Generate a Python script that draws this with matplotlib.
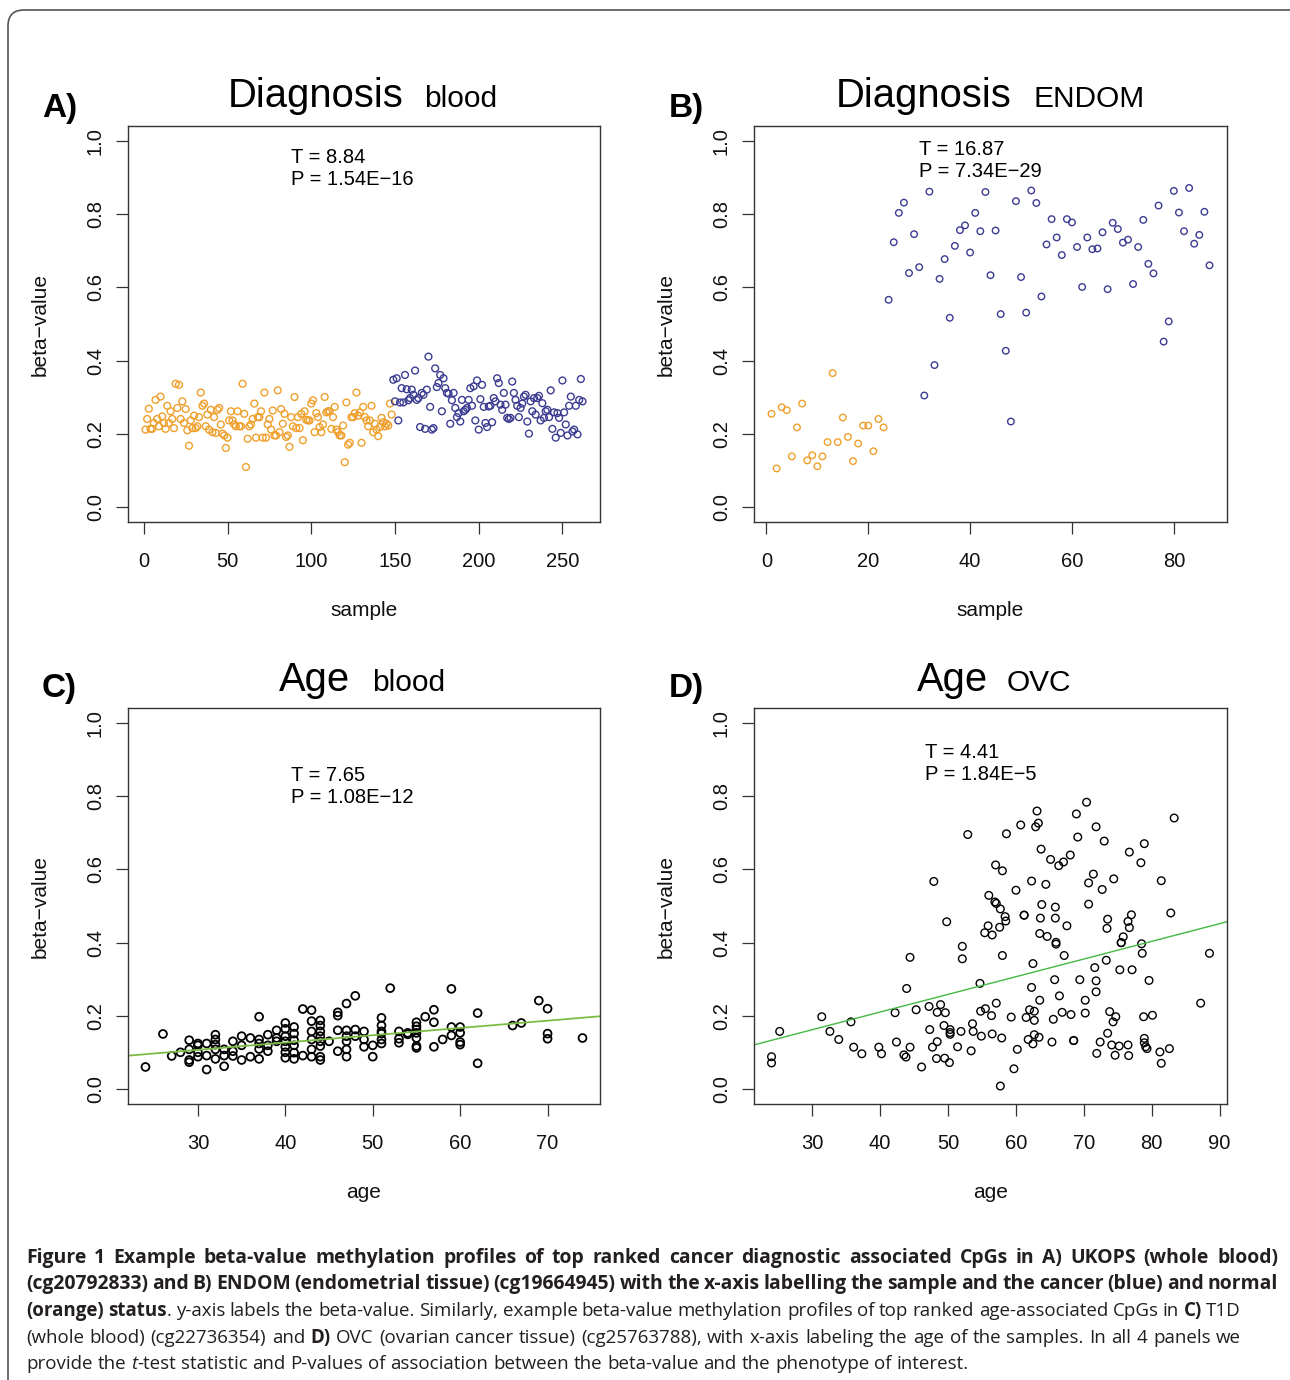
import numpy as np
import matplotlib.pyplot as plt
from matplotlib.patches import FancyBboxPatch
from matplotlib.transforms import IdentityTransform

W, H = 1290, 1380

# panel A - UKOPS whole blood, normal (orange) samples first, then cancer (blue)
a_normal = [0.212, 0.241, 0.269, 0.214, 0.214, 0.230, 0.293, 0.241, 0.221, 0.302,
            0.248, 0.230, 0.214, 0.277, 0.230, 0.262, 0.241, 0.216, 0.337, 0.271,
            0.334, 0.241, 0.289, 0.230, 0.268, 0.210, 0.168, 0.237, 0.216, 0.250,
            0.216, 0.221, 0.246, 0.313, 0.277, 0.283, 0.221, 0.253, 0.212, 0.266,
            0.205, 0.246, 0.203, 0.266, 0.271, 0.226, 0.201, 0.196, 0.162, 0.190,
            0.237, 0.262, 0.237, 0.226, 0.221, 0.262, 0.221, 0.221, 0.337, 0.255,
            0.110, 0.187, 0.221, 0.226, 0.241, 0.283, 0.190, 0.246, 0.246, 0.262,
            0.190, 0.313, 0.190, 0.226, 0.241, 0.212, 0.264, 0.196, 0.196, 0.319,
            0.205, 0.268, 0.228, 0.255, 0.192, 0.196, 0.165, 0.246, 0.221, 0.301,
            0.216, 0.246, 0.216, 0.255, 0.183, 0.262, 0.239, 0.237, 0.237, 0.283,
            0.292, 0.205, 0.257, 0.246, 0.219, 0.205, 0.226, 0.301, 0.259, 0.262,
            0.262, 0.214, 0.246, 0.274, 0.212, 0.205, 0.196, 0.196, 0.223, 0.123,
            0.286, 0.171, 0.176, 0.246, 0.246, 0.257, 0.313, 0.250, 0.259, 0.176,
            0.274, 0.246, 0.237, 0.221, 0.237, 0.277, 0.205, 0.228, 0.212, 0.194,
            0.219, 0.244, 0.232, 0.221, 0.228, 0.223, 0.283, 0.253]
a_cancer = [0.348, 0.289, 0.352, 0.237, 0.286, 0.325, 0.286, 0.361, 0.322, 0.292,
            0.298, 0.321, 0.307, 0.373, 0.293, 0.298, 0.219, 0.312, 0.307, 0.214,
            0.321, 0.411, 0.274, 0.212, 0.216, 0.379, 0.328, 0.339, 0.361, 0.262,
            0.352, 0.325, 0.312, 0.310, 0.228, 0.292, 0.312, 0.271, 0.246, 0.257,
            0.234, 0.293, 0.262, 0.266, 0.271, 0.293, 0.325, 0.277, 0.330, 0.237,
            0.346, 0.212, 0.295, 0.334, 0.274, 0.230, 0.219, 0.275, 0.277, 0.232,
            0.298, 0.289, 0.352, 0.339, 0.280, 0.266, 0.312, 0.280, 0.244, 0.241,
            0.244, 0.343, 0.312, 0.293, 0.277, 0.246, 0.271, 0.283, 0.302,
            0.307, 0.234, 0.201, 0.289, 0.262, 0.298, 0.253, 0.298, 0.304, 0.237,
            0.284, 0.244, 0.262, 0.266, 0.246, 0.319, 0.214, 0.259, 0.190, 0.257,
            0.244, 0.203, 0.346, 0.259, 0.226, 0.196, 0.277, 0.302, 0.207, 0.212,
            0.277, 0.199, 0.293, 0.350, 0.289]

# panel B - ENDOM endometrial tissue
b_normal = [0.255, 0.106, 0.273, 0.265, 0.139, 0.218, 0.283, 0.128, 0.142, 0.112,
            0.139, 0.178, 0.366, 0.178, 0.245, 0.192, 0.126, 0.174, 0.223, 0.223,
            0.153, 0.241, 0.218]
b_cancer = [0.566, 0.723, 0.803, 0.831, 0.639, 0.745, 0.655, 0.305, 0.861, 0.388,
            0.623, 0.677, 0.517, 0.713, 0.756, 0.769, 0.695, 0.803, 0.753, 0.860,
            0.633, 0.755, 0.527, 0.427, 0.234, 0.835, 0.628, 0.531, 0.864, 0.830,
            0.575, 0.717, 0.786, 0.736, 0.688, 0.786, 0.777, 0.710, 0.601, 0.736,
            0.704, 0.706, 0.750, 0.595, 0.776, 0.759, 0.722, 0.730, 0.609, 0.710,
            0.784, 0.664, 0.638, 0.823, 0.452, 0.507, 0.863, 0.804, 0.753, 0.871,
            0.719, 0.743, 0.806, 0.660]

# panel C - T1D whole blood, beta-values grouped by age
c_ages = [24, 26, 27, 28, 29, 30, 31, 32, 33, 34, 35, 36, 37, 38, 39, 40, 41, 42, 43, 44,
          45, 46, 47, 48, 49, 50, 51, 52, 53, 54, 55, 56, 57, 58, 59, 60, 62, 66, 67, 69,
          70, 74]
c_betas = [[0.061], [0.151], [0.091], [0.101],
           [0.134, 0.109, 0.080, 0.074],
           [0.125, 0.101, 0.089, 0.120],
           [0.125, 0.092, 0.054],
           [0.149, 0.136, 0.122, 0.109, 0.083],
           [0.109, 0.092, 0.063],
           [0.131, 0.104, 0.091],
           [0.145, 0.120, 0.080],
           [0.140, 0.089],
           [0.198, 0.136, 0.125, 0.110, 0.083],
           [0.149, 0.120, 0.104],
           [0.161, 0.140, 0.131],
           [0.181, 0.165, 0.145, 0.131, 0.116, 0.101, 0.086],
           [0.170, 0.152, 0.134, 0.120, 0.100, 0.083],
           [0.219, 0.092],
           [0.216, 0.186, 0.158, 0.136, 0.109, 0.089],
           [0.188, 0.174, 0.158, 0.145, 0.131, 0.118, 0.089, 0.080],
           [0.131],
           [0.210, 0.201, 0.161, 0.104],
           [0.234, 0.161, 0.145, 0.131, 0.109, 0.089],
           [0.255, 0.163, 0.145],
           [0.158, 0.136, 0.116],
           [0.120, 0.089],
           [0.195, 0.174, 0.158, 0.152, 0.136, 0.125],
           [0.276],
           [0.158, 0.138, 0.127],
           [0.154, 0.150],
           [0.183, 0.172, 0.163, 0.154, 0.140, 0.118, 0.113],
           [0.198],
           [0.217, 0.183, 0.116],
           [0.136],
           [0.274, 0.170, 0.147],
           [0.170, 0.154, 0.129, 0.122],
           [0.208, 0.071],
           [0.174], [0.181], [0.242],
           [0.220, 0.152, 0.138],
           [0.140]]
c_fit = (0.048, 0.00199)   # intercept, slope

# panel D - OVC ovarian cancer tissue
d_age = [24.0, 24.0, 25.2, 31.4, 32.6, 33.9, 35.7, 36.1, 37.3, 39.8, 40.2, 42.2, 42.4, 43.5,
         43.8, 43.9, 44.4, 44.4, 45.3, 46.1, 47.2, 47.3, 47.7, 47.9, 48.3, 48.4, 48.4, 48.9,
         49.4, 49.5, 49.6, 49.8, 50.2, 50.3, 50.3, 50.3, 51.4, 51.9, 52.1, 52.1, 52.9, 53.4,
         53.6, 53.7, 54.7, 54.8, 54.9, 55.4, 55.5, 55.9, 56.0,
         56.5, 56.5, 56.4, 56.9, 57.1, 57.0, 57.1, 57.6, 57.7, 57.7, 57.9, 58.0, 58.0, 58.4,
         58.5, 58.6, 59.3, 59.7, 60.0, 60.2, 60.7, 61.2, 61.2, 61.5, 61.8, 62.0, 62.3, 62.3,
         62.5, 62.5, 62.7, 62.7, 62.7, 62.9, 63.1, 63.3, 63.4, 63.5, 63.5, 63.6, 63.7, 63.8,
         64.4, 64.6, 65.1, 65.3, 65.5, 65.7, 65.8, 65.8, 65.9, 65.9, 66.3, 66.4, 66.8, 67.0,
         67.1, 67.5, 68.0, 68.1, 68.5, 68.5, 68.9, 69.1, 69.4, 70.2, 70.2, 70.4, 70.7, 70.7,
         71.4, 71.6, 71.8, 71.8, 71.8, 71.9, 72.4, 72.7, 73.0, 73.3, 73.4, 73.5, 73.5, 73.8,
         74.1, 74.3, 74.4, 74.6, 74.7, 75.2, 75.3, 75.5, 75.5, 75.8, 76.5, 76.5, 76.6, 76.7,
         76.7, 77.0, 77.1, 78.4, 78.5, 78.6, 78.8, 78.9, 78.9, 79.1, 79.3, 78.9, 79.6, 80.1,
         81.2, 81.4, 81.4, 82.6, 82.8, 83.3, 87.2, 88.5]
d_beta = [0.089, 0.072, 0.158, 0.198, 0.158, 0.136, 0.184, 0.115, 0.097, 0.115, 0.097, 0.209,
          0.129, 0.094, 0.088, 0.275, 0.115, 0.360, 0.217, 0.061, 0.226, 0.163, 0.115, 0.567,
          0.084, 0.130, 0.210, 0.231, 0.174, 0.085, 0.209, 0.457, 0.073, 0.163, 0.155, 0.150,
          0.116, 0.158, 0.390, 0.356, 0.695, 0.105, 0.179, 0.158, 0.289, 0.213, 0.145, 0.427,
          0.220, 0.446, 0.529,
          0.421, 0.151, 0.201, 0.511, 0.507, 0.612, 0.235, 0.442, 0.492, 0.009, 0.140, 0.596,
          0.365, 0.471, 0.459, 0.697, 0.197, 0.056, 0.543, 0.109, 0.721, 0.475, 0.475, 0.196,
          0.136, 0.217, 0.568, 0.278, 0.343, 0.124, 0.213, 0.188, 0.149, 0.716, 0.759, 0.726,
          0.142, 0.425, 0.243, 0.467, 0.655, 0.504, 0.559, 0.417, 0.627, 0.129, 0.191, 0.299,
          0.497, 0.467, 0.401, 0.396, 0.610, 0.255, 0.210, 0.620, 0.365, 0.446, 0.639, 0.204,
          0.133, 0.133, 0.751, 0.688, 0.299, 0.208, 0.243, 0.783, 0.563, 0.505, 0.587, 0.332,
          0.716, 0.296, 0.266, 0.098, 0.129, 0.545, 0.677, 0.352, 0.439, 0.153, 0.464, 0.212,
          0.121, 0.184, 0.574, 0.093, 0.198, 0.118, 0.326, 0.400, 0.400, 0.416, 0.121, 0.458,
          0.092, 0.441, 0.647, 0.476, 0.326, 0.618, 0.397, 0.371, 0.198, 0.139, 0.127, 0.116,
          0.111, 0.670, 0.297, 0.202, 0.102, 0.071, 0.569, 0.111, 0.481, 0.740, 0.235, 0.371]
d_fit = (0.018, 0.00482)

orange = '#efa02c'
blue = '#3c3c92'
box_col = '#333333'

plt.rcParams['font.family'] = ['Liberation Sans', 'DejaVu Sans']
fig = plt.figure(figsize=(W / 100, H / 100), dpi=100)


def panel(left, top, width=472):
    return fig.add_axes([left / W, 1 - (top + 396) / H, width / W, 396 / H])


def r_xlim(ax, lo, hi):
    # R style 4% padding around the data range
    pad = 0.04 * (hi - lo)
    ax.set_xlim(lo - pad, hi + pad)


def style(ax, xticks, xlabel):
    ax.set_ylim(-0.04, 1.04)
    ax.set_yticks([0, 0.2, 0.4, 0.6, 0.8, 1.0])
    ax.set_yticklabels(['0.0', '0.2', '0.4', '0.6', '0.8', '1.0'], rotation=90, va='center')
    ax.set_xticks(xticks)
    ax.tick_params(direction='out', length=8.6, width=0.9, labelsize=14.5,
                   color=box_col, labelcolor='#111111')
    ax.tick_params(axis='x', pad=13)
    ax.tick_params(axis='y', pad=8)
    for s in ax.spines.values():
        s.set_linewidth(1.0)
        s.set_color(box_col)
    ax.set_xlabel(xlabel, fontsize=15, color='#111111')
    ax.xaxis.set_label_coords(0.5, -0.224)
    ax.xaxis.label.set_va('center')
    ax.set_ylabel('beta\u2212value', fontsize=15, color='#111111')
    ax.yaxis.set_label_coords(-0.186, 0.5)
    ax.yaxis.label.set_va('center')


def title(ax, x1, word1, x2, word2, y):
    ax.text(x1, y, word1, transform=ax.transAxes, fontsize=28.8, va='baseline')
    ax.text(x2, y, word2, transform=ax.transAxes, fontsize=21.5, va='baseline')


def stats(ax, x, y, t_txt, p_txt):
    ax.text(x, y, t_txt, transform=ax.transAxes, fontsize=14.5, va='baseline')
    ax.text(x, y - 0.056, p_txt, transform=ax.transAxes, fontsize=14.5, va='baseline')


# A) Diagnosis blood
axA = panel(128, 126)
xa_n = np.arange(1, len(a_normal) + 1)
xa_c = np.arange(len(a_normal) + 1, len(a_normal) + len(a_cancer) + 1)
axA.scatter(xa_n, a_normal, s=24, facecolors='none', edgecolors=orange, linewidths=1.0)
axA.scatter(xa_c, a_cancer, s=24, facecolors='none', edgecolors=blue, linewidths=1.0)
r_xlim(axA, 1, len(a_normal) + len(a_cancer))
style(axA, [0, 50, 100, 150, 200, 250], 'sample')
title(axA, 0.212, 'Diagnosis', 0.627, 'blood', 1.048)
stats(axA, 0.345, 0.907, 'T = 8.84', 'P = 1.54E\u221216')

# B) Diagnosis ENDOM
axB = panel(754, 126, 473)
xb_n = np.arange(1, len(b_normal) + 1)
xb_c = np.arange(len(b_normal) + 1, len(b_normal) + len(b_cancer) + 1)
axB.scatter(xb_n, b_normal, s=22, facecolors='none', edgecolors=orange, linewidths=1.0)
axB.scatter(xb_c, b_cancer, s=22, facecolors='none', edgecolors=blue, linewidths=1.0)
r_xlim(axB, 1, len(b_normal) + len(b_cancer))
style(axB, [0, 20, 40, 60, 80], 'sample')
title(axB, 0.173, 'Diagnosis', 0.59, 'ENDOM', 1.048)
stats(axB, 0.349, 0.927, 'T = 16.87', 'P = 7.34E\u221229')

# C) Age blood
axC = panel(128, 708)
c_age = np.concatenate([[a] * len(b) for a, b in zip(c_ages, c_betas)])
c_beta = np.concatenate(c_betas)
axC.scatter(c_age, c_beta, s=32, facecolors='none', edgecolors='black', linewidths=1.3)
axC.axline((0, c_fit[0]), slope=c_fit[1], color='#7dbb45', lw=1.3)
r_xlim(axC, min(c_ages), max(c_ages))
style(axC, [30, 40, 50, 60, 70], 'age')
title(axC, 0.32, 'Age', 0.517, 'blood', 1.043)
stats(axC, 0.345, 0.816, 'T = 7.65', 'P = 1.08E\u221212')

# D) Age OVC
axD = panel(754, 708, 473)
axD.scatter(d_age, d_beta, s=30, facecolors='none', edgecolors='black', linewidths=1.0)
axD.axline((0, d_fit[0]), slope=d_fit[1], color='#45b845', lw=1.0)
r_xlim(axD, min(d_age), max(d_age))
style(axD, [30, 40, 50, 60, 70, 80, 90], 'age')
title(axD, 0.345, 'Age', 0.535, 'OVC', 1.043)
stats(axD, 0.3615, 0.874, 'T = 4.41', 'P = 1.84E\u22125')

# panel letters
for lab, x, y in [('A)', 42, 117), ('B)', 669, 117), ('C)', 42, 697), ('D)', 669, 697)]:
    fig.text(x / W, 1 - y / H, lab, fontsize=24, fontweight='bold', va='baseline')

# rounded frame around the figure
frame = FancyBboxPatch((8, -60), 1400, H - 10 + 60, boxstyle='round,pad=0,rounding_size=16',
                       transform=IdentityTransform(), fill=False, ec='#555555', lw=1.2)
fig.patches.append(frame)

# caption
cap_font = ['Open Sans', 'DejaVu Sans']
renderer = fig.canvas.get_renderer()


def text_w(s, size, weight='normal', style='normal'):
    t = fig.text(0, 0, s, fontsize=size, fontweight=weight, fontstyle=style, family=cap_font)
    w = t.get_window_extent(renderer).width
    t.remove()
    return w


def words(parts):
    toks = []
    for text, wt, st, gap in parts:
        for wd in text.split(' '):
            toks.append((wd, wt, st, gap))
            gap = 1
    return toks


def caption_line(parts, base_y, size, target=None):
    toks = words(parts)
    widths = [text_w(wd, size, wt, st) for wd, wt, st, g in toks]
    gap = text_w('a a', size) - text_w('aa', size)
    n_sp = sum(t[3] for t in toks)
    if target is not None:
        gap = (target - sum(widths)) / n_sp
    x = 26
    for (wd, wt, st, g), w in zip(toks, widths):
        if g:
            x += gap
        fig.text(x / W, 1 - base_y / H, wd, fontsize=size, fontweight=wt, fontstyle=st,
                 family=cap_font, va='baseline', color='#231f20')
        x += w


line1 = [('Figure 1 Example beta-value methylation profiles of top ranked cancer diagnostic '
          'associated CpGs in A) UKOPS (whole blood)', 'bold', 'normal', 0)]
line2 = [('(cg20792833) and B) ENDOM (endometrial tissue) (cg19664945) with the x-axis '
          'labelling the sample and the cancer (blue) and normal', 'bold', 'normal', 0)]
line3 = [('(orange) status', 'bold', 'normal', 0),
         ('. y-axis labels the beta-value. Similarly, example beta-value methylation profiles '
          'of top ranked age-associated CpGs in', 'normal', 'normal', 0),
         ('C)', 'bold', 'normal', 1), ('T1D', 'normal', 'normal', 1)]
line4 = [('(whole blood) (cg22736354) and', 'normal', 'normal', 0), ('D)', 'bold', 'normal', 1),
         ('OVC (ovarian cancer tissue) (cg25763788), with x-axis labeling the age of the '
          'samples. In all 4 panels we', 'normal', 'normal', 1)]
line5 = [('provide the', 'normal', 'normal', 0), ('t', 'normal', 'italic', 1),
         ('-test statistic and P-values of association between the beta-value and the '
          'phenotype of interest.', 'normal', 'normal', 0)]

# font size from the ragged last line, then justify the others
toks5 = words(line5)
nat = sum(text_w(wd, 13, wt, st) for wd, wt, st, g in toks5) + \
    sum(t[3] for t in toks5) * (text_w('a a', 13) - text_w('aa', 13))
cap_size = 13 * 941 / nat

caption_line(line1, 1263, cap_size * 1.03, 1252)
caption_line(line2, 1289, cap_size * 1.03, 1252)
caption_line(line3, 1316, cap_size, 1215)
caption_line(line4, 1343, cap_size, 1215)
caption_line(line5, 1369, cap_size)

fig.savefig('out.png', dpi=100)
